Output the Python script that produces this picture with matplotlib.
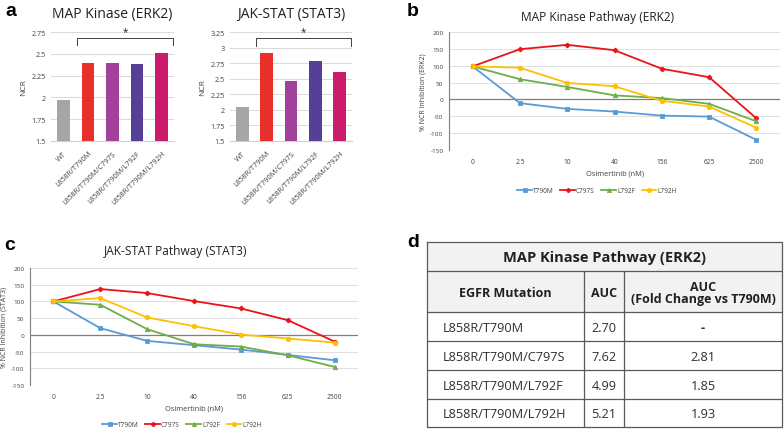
import matplotlib
matplotlib.use("Agg")
import matplotlib.pyplot as plt
from matplotlib.lines import Line2D
from matplotlib.patches import Rectangle

W, H = 784, 431
FONT = "Open Sans"
plt.rcParams['font.family'] = [FONT, 'DejaVu Sans']

# ---------------- data ----------------
bar_categories = ["WT", "L858R/T790M", "L858R/T790M/C797S", "L858R/T790M/L792F", "L858R/T790M/L792H"]
bar_colors = ["#a6a6a6", "#e8302a", "#a3409a", "#563f97", "#cc1a6c"]
erk2_ncr = [1.97, 2.39, 2.40, 2.38, 2.51]
stat3_ncr = [2.04, 2.92, 2.47, 2.78, 2.60]

dose_labels = ["0", "2.5", "10", "40", "156", "625", "2500"]
series_names = ["T790M", "C797S", "L792F", "L792H"]
series_colors = ["#5b9bd5", "#e8141b", "#70ad47", "#ffc000"]
series_markers = ["s", "P", "^", "o"]

erk2_T790M = [98, -11, -28, -36, -48, -51, -120]
erk2_C797S = [98, 149, 162, 146, 91, 66, -56]
erk2_L792F = [98, 60, 37, 12, 4, -13, -65]
erk2_L792H = [98, 94, 49, 39, -4, -21, -84]

stat3_T790M = [100, 20, -18, -31, -44, -60, -76]
stat3_C797S = [100, 137, 125, 101, 79, 44, -20]
stat3_L792F = [100, 90, 17, -28, -35, -61, -96]
stat3_L792H = [100, 110, 52, 26, 1, -11, -23]

table_title = "MAP Kinase Pathway (ERK2)"
table_header = ["EGFR Mutation", "AUC", "AUC\n(Fold Change vs T790M)"]
table_mutations = ["L858R/T790M", "L858R/T790M/C797S", "L858R/T790M/L792F", "L858R/T790M/L792H"]
table_auc = ["2.70", "7.62", "4.99", "5.21"]
table_fold = ["-", "2.81", "1.85", "1.93"]

# ---------------- helpers ----------------
fig = plt.figure(figsize=(W / 100, H / 100), dpi=100)


def px_axes(x0, y0, x1, y1):
    return fig.add_axes([x0 / W, 1 - y1 / H, (x1 - x0) / W, (y1 - y0) / H])


def fig_text(x, y, s, **kw):
    fig.text(x / W, 1 - y / H, s, **kw)


def bar_panel(ax, values, ylim, yticks, yticklabels, title, bracket_y, bracket_tick, star_y):
    x = list(range(len(bar_categories)))
    ax.bar(x, values, width=0.52, color=bar_colors, zorder=3)
    ax.set_xlim(-0.5, len(x) - 0.5)
    ax.set_ylim(*ylim)
    ax.set_yticks(yticks)
    ax.set_yticklabels(yticklabels, fontsize=5.2, color="#404040")
    ax.set_xticks(x)
    ax.set_xticklabels(bar_categories, rotation=45, ha="right", rotation_mode="anchor",
                       fontsize=5.3, color="#404040")
    ax.tick_params(axis="both", length=0, pad=4)
    ax.tick_params(axis="x", pad=6)
    ax.grid(axis="y", color="#d9d9d9", linewidth=0.7, zorder=0)
    for s in ["top", "right", "left"]:
        ax.spines[s].set_visible(False)
    ax.spines["bottom"].set_color("#d0d0d0")
    ax.spines["bottom"].set_linewidth(0.8)
    ax.set_ylabel("NCR", fontsize=6, color="#404040", labelpad=3)
    ax.set_title(title, fontsize=10, color="#202020", pad=11)
    # significance bracket
    xb0, xb1 = 0.55, 4.45
    ax.plot([xb0, xb0, xb1, xb1], [bracket_tick, bracket_y, bracket_y, bracket_tick],
            color="#404040", linewidth=0.7, clip_on=False, zorder=4)
    ax.text((xb0 + xb1) / 2, star_y, "*", ha="center", va="center", fontsize=7, color="#202020")


def line_panel(ax, data, title, ylabel, title_x, title_y):
    x = list(range(len(dose_labels)))
    for vals, name, col, mk in zip(data, series_names, series_colors, series_markers):
        ax.plot(x, vals, color=col, marker=mk, markersize=3.2, linewidth=1.3, label=name,
                zorder=3, markeredgewidth=0.6)
    ax.set_xlim(-0.5, len(x) - 0.5)
    ax.set_ylim(-150, 200)
    ax.set_yticks(range(-150, 201, 50))
    ax.set_yticklabels([str(v) for v in range(-150, 201, 50)], fontsize=4.6, color="#404040")
    ax.set_xticks(x)
    ax.set_xticklabels(dose_labels, fontsize=4.8, color="#404040")
    ax.tick_params(axis="both", length=0, pad=4)
    ax.tick_params(axis="x", pad=6)
    ax.grid(axis="y", color="#d9d9d9", linewidth=0.6, zorder=0)
    for s in ["top", "right", "bottom"]:
        ax.spines[s].set_visible(False)
    ax.spines["left"].set_color("#7f7f7f")
    ax.spines["left"].set_linewidth(0.8)
    ax.axhline(0, color="#7f7f7f", linewidth=0.9, zorder=2)
    ax.set_ylabel(ylabel, fontsize=5, color="#404040", labelpad=3)
    ax.set_xlabel("Osimertinib (nM)", fontsize=5.3, color="#404040", labelpad=3)
    fig_text(title_x, title_y, title, fontsize=8.6, color="#202020", ha="center", va="center")


def legend_at(cx, cy):
    handles = [Line2D([0], [0], color=c, marker=m, markersize=3, linewidth=1.3, markeredgewidth=0.6)
               for c, m in zip(series_colors, series_markers)]
    fig.legend(handles, series_names, loc="center", bbox_to_anchor=(cx / W, 1 - cy / H),
               ncol=4, frameon=False, fontsize=4.7, handlelength=2.2, handletextpad=0.2,
               columnspacing=1.0, labelcolor="#404040")


# ---------------- panel a ----------------
ax1 = px_axes(51, 33, 174, 142)
bar_panel(ax1, erk2_ncr, (1.5, 2.75), [1.5, 1.75, 2.0, 2.25, 2.5, 2.75],
          ["1.5", "1.75", "2", "2.25", "2.5", "2.75"], "MAP Kinase (ERK2)", 2.68, 2.60, 2.75)
ax2 = px_axes(230, 33, 352, 142)
bar_panel(ax2, stat3_ncr, (1.5, 3.25), [1.5, 1.75, 2.0, 2.25, 2.5, 2.75, 3.0, 3.25],
          ["1.5", "1.75", "2", "2.25", "2.5", "2.75", "3", "3.25"], "JAK-STAT (STAT3)", 3.15, 3.03, 3.25)

# ---------------- panel b ----------------
axb = px_axes(449, 33, 780, 151)
line_panel(axb, [erk2_T790M, erk2_C797S, erk2_L792F, erk2_L792H],
           "MAP Kinase Pathway (ERK2)", "% NCR Inhibition (ERK2)", 598, 17)
legend_at(597, 192)

# ---------------- panel c ----------------
axc = px_axes(30, 269, 358, 386)
line_panel(axc, [stat3_T790M, stat3_C797S, stat3_L792F, stat3_L792H],
           "JAK-STAT Pathway (STAT3)", "% NCR Inhibition (STAT3)", 176, 252)
legend_at(182, 426)

# ---------------- panel d (table) ----------------
axt = px_axes(427, 243, 782, 428)
axt.set_xlim(427, 782)
axt.set_ylim(428, 243)
axt.axis("off")
c0, c1, c2, c3 = 427, 584, 624, 782
r_title, r_head = 243, 272
r_rows = [313, 342, 371, 400, 428]
lc = "#595959"
axt.add_patch(Rectangle((c0, r_title), c3 - c0, r_rows[0] - r_title, facecolor="#f2f2f2",
                        edgecolor="none", zorder=0))
lw = 0.9
axt.plot([c0, c3, c3, c0, c0], [r_title, r_title, r_rows[-1], r_rows[-1], r_title], color=lc, lw=lw,
         clip_on=False)
axt.plot([c0, c3], [r_head, r_head], color=lc, lw=lw)
for r in r_rows[:-1]:
    axt.plot([c0, c3], [r, r], color=lc, lw=lw)
for c in (c1, c2):
    axt.plot([c, c], [r_head, r_rows[-1]], color=lc, lw=lw)
axt.text((c0 + c3) / 2, (r_title + r_head) / 2 + 1, table_title, ha="center", va="center",
         fontsize=10.5, fontweight="bold", color="#202020")
hy = (r_head + r_rows[0]) / 2 + 1
axt.text((c0 + c1) / 2, hy, table_header[0], ha="center", va="center", fontsize=9,
         fontweight="bold", color="#202020")
axt.text((c1 + c2) / 2, hy, table_header[1], ha="center", va="center", fontsize=9,
         fontweight="bold", color="#202020")
axt.text((c2 + c3) / 2, hy, table_header[2], ha="center", va="center", fontsize=9,
         fontweight="bold", color="#202020", linespacing=0.95)
for i, (m, a, f) in enumerate(zip(table_mutations, table_auc, table_fold)):
    y = (r_rows[i] + r_rows[i + 1]) / 2 + 1
    axt.text(c0 + 16, y, m, ha="left", va="center", fontsize=9.2, color="#303030")
    axt.text((c1 + c2) / 2, y, a, ha="center", va="center", fontsize=9.2, color="#303030")
    axt.text((c2 + c3) / 2, y, f, ha="center", va="center", fontsize=9.2, color="#303030",
             fontweight="bold" if f == "-" else "normal")

# ---------------- panel letters ----------------
for lbl, x, y in [("a", 5, 11), ("b", 407, 11), ("c", 4, 246), ("d", 407, 243)]:
    fig_text(x, y, lbl, fontsize=14, fontweight="bold", family="Liberation Sans",
             ha="left", va="center", color="#000000")

fig.savefig("out.png", dpi=100, facecolor="white")
